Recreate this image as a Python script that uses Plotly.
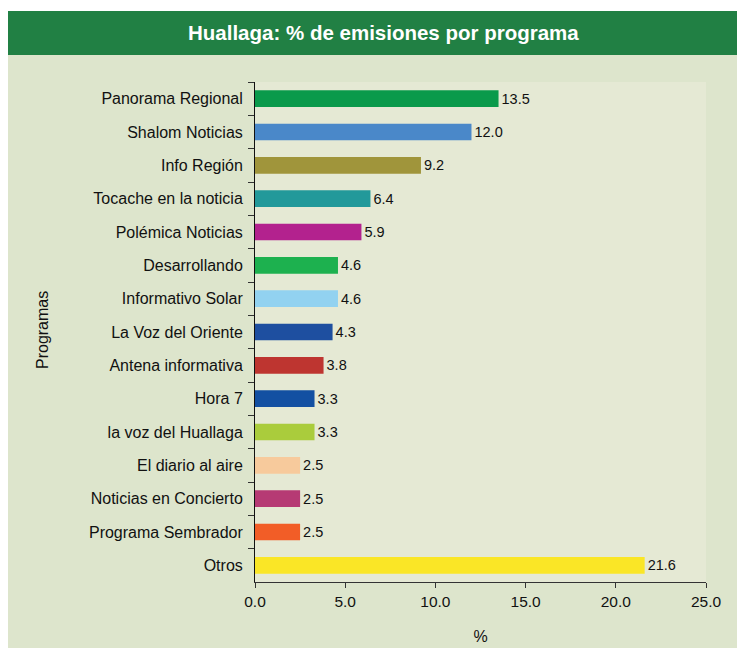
import plotly.graph_objects as go

# Chart data
programas = [
    "Panorama Regional", "Shalom Noticias", "Info Región", "Tocache en la noticia",
    "Polémica Noticias", "Desarrollando", "Informativo Solar", "La Voz del Oriente",
    "Antena informativa", "Hora 7", "la voz del Huallaga", "El diario al aire",
    "Noticias en Concierto", "Programa Sembrador", "Otros",
]
porcentajes = [13.5, 12.0, 9.2, 6.4, 5.9, 4.6, 4.6, 4.3, 3.8, 3.3, 3.3, 2.5, 2.5, 2.5, 21.6]
colores = [
    "#0A9A4B", "#4A88C9", "#A0953B", "#22999A", "#B3228E", "#1DB14F", "#92D2F0",
    "#1E4FA0", "#BE3530", "#1350A2", "#AACC3C", "#F7CA9C", "#B63A74", "#F25D27",
    "#FAE626",
]

FONT = "Liberation Sans, Arial, sans-serif"

# page body adds an 8px margin, so the figure is shifted back by 8px
OFF = 8

fig = go.Figure()

fig.add_trace(go.Bar(
    x=porcentajes,
    y=programas,
    orientation="h",
    marker=dict(color=colores, line=dict(width=0)),
    text=[f"{v:.1f}" for v in porcentajes],
    textposition="outside",
    textfont=dict(size=14.5, color="#111111", family=FONT),
    cliponaxis=False,
    showlegend=False,
    hovertemplate="%{y}: %{x:.1f}%<extra></extra>",
))

# screen pixel -> paper helpers (plot area on screen spans x 255..706, y 82..582)
def px(x):
    return (x - 255) / 451

def py(y):
    return (582 - y) / 500

shapes = [
    # light green background panel
    dict(type="rect", xref="paper", yref="paper", x0=px(8), x1=px(760), y0=py(648), y1=py(55),
         fillcolor="#DDE5CC", line=dict(width=0), layer="below"),
    # header band
    dict(type="rect", xref="paper", yref="paper", x0=px(6), x1=px(760), y0=py(55), y1=py(11),
         fillcolor="#218044", line=dict(width=0), layer="below"),
    # plot area
    dict(type="rect", xref="paper", yref="paper", x0=0, x1=1, y0=0, y1=1,
         fillcolor="#E5E9D4", line=dict(width=0), layer="below"),
]

fig.update_layout(
    width=745 - OFF,
    height=650 - OFF,
    margin=dict(l=255 - OFF, r=39, t=82 - OFF, b=68, autoexpand=False),
    paper_bgcolor="white",
    plot_bgcolor="rgba(0,0,0,0)",
    shapes=shapes,
    bargap=0.5,
    font=dict(family=FONT, size=15, color="#111111"),
    annotations=[
        dict(text="<b>Huallaga: % de emisiones por programa</b>", xref="paper", yref="paper",
             x=px(383), y=py(33), showarrow=False, xanchor="center", yanchor="middle",
             font=dict(size=20.5, color="white", family=FONT)),
        dict(text="Programas", xref="paper", yref="paper", x=px(42), y=py(330),
             showarrow=False, textangle=-90, xanchor="center", yanchor="middle",
             font=dict(size=16, color="#111111", family=FONT)),
    ],
    xaxis=dict(
        range=[0, 25],
        tickvals=[0, 5, 10, 15, 20, 25],
        ticktext=["0.0", "5.0", "10.0", "15.0", "20.0", "25.0"],
        showgrid=False,
        zeroline=False,
        showline=True,
        linecolor="#333333",
        linewidth=1,
        ticks="outside",
        ticklen=5,
        tickcolor="#333333",
        tickfont=dict(size=15.5),
        title=dict(text="%", font=dict(size=16), standoff=22),
        automargin=False,
        fixedrange=True,
    ),
    yaxis=dict(
        autorange="reversed",
        showgrid=False,
        showline=True,
        linecolor="#111111",
        linewidth=1,
        ticks="outside",
        tickson="boundaries",
        ticklen=6,
        tickcolor="#333333",
        tickfont=dict(size=16),
        ticklabelstandoff=8,
        automargin=False,
        fixedrange=True,
    ),
)

fig.write_html("out.html")
